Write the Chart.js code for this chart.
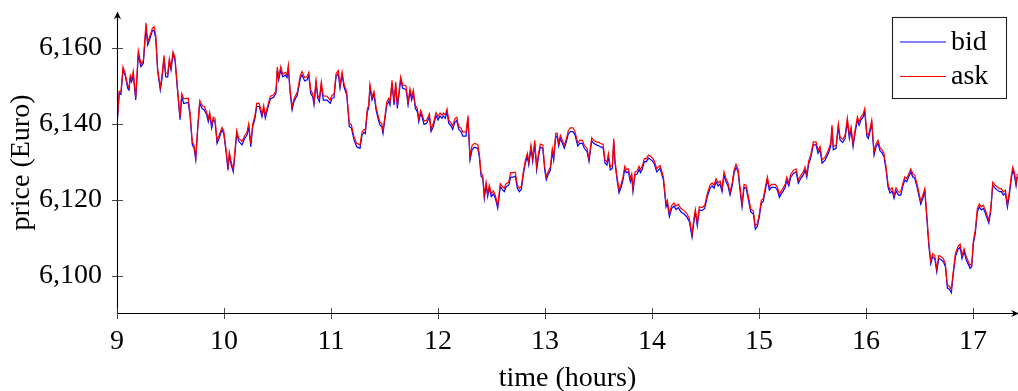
<!DOCTYPE html>
<html>
<head>
<meta charset="utf-8">
<title>bid / ask</title>
<script src="https://cdn.jsdelivr.net/npm/chart.js@4.4.1/dist/chart.umd.min.js"></script>
<style>
  html, body { margin: 0; padding: 0; background: #fff; }
  #wrap { position: relative; width: 1018px; height: 391px; }
</style>
</head>
<body>
<div id="wrap"><canvas id="c"></canvas></div>
<script>
// Time of each quote, in hours of the trading day
const hours = [
  9.000, 9.021, 9.037, 9.056, 9.075, 9.100, 9.112, 9.124, 9.137, 9.152,
  9.175, 9.199, 9.224, 9.246, 9.271, 9.287, 9.308, 9.330, 9.346, 9.362,
  9.380, 9.405, 9.423, 9.439, 9.455, 9.474, 9.489, 9.505, 9.523, 9.542,
  9.561, 9.589, 9.605, 9.623, 9.666, 9.682, 9.704, 9.720, 9.736, 9.754,
  9.773, 9.797, 9.816, 9.838, 9.853, 9.866, 9.885, 9.900, 9.916, 9.935,
  9.953,
  9.981, 9.997, 10.019, 10.037, 10.050, 10.068, 10.087, 10.119, 10.137, 10.168,
  10.193, 10.215, 10.231, 10.250, 10.268, 10.287, 10.306, 10.330, 10.355, 10.371,
  10.386, 10.405, 10.433, 10.464, 10.486, 10.498, 10.511, 10.530, 10.549, 10.573,
  10.589, 10.601, 10.617, 10.636, 10.654, 10.685, 10.713, 10.729, 10.754, 10.776,
  10.792, 10.810, 10.829, 10.841, 10.860, 10.876, 10.891, 10.909, 10.928, 10.963,
  10.993,
  11.009, 11.028, 11.047, 11.068, 11.084, 11.103, 11.121, 11.147, 11.171, 11.190,
  11.215, 11.240, 11.271, 11.290, 11.308, 11.321, 11.339, 11.352, 11.364, 11.383,
  11.402, 11.421, 11.442, 11.458, 11.474, 11.486, 11.505, 11.521, 11.539, 11.551,
  11.570, 11.589, 11.605, 11.620, 11.638, 11.651, 11.670, 11.701, 11.720, 11.738,
  11.754, 11.769, 11.788, 11.807, 11.820, 11.838, 11.850, 11.869, 11.894, 11.919,
  11.935, 11.956, 11.981,
  12.000, 12.019, 12.037, 12.050, 12.068, 12.084, 12.100, 12.121, 12.137, 12.156,
  12.175, 12.193, 12.215, 12.231, 12.262, 12.280, 12.299, 12.318, 12.339, 12.371,
  12.386, 12.402, 12.418, 12.433, 12.449, 12.464, 12.479, 12.498, 12.517, 12.536,
  12.558, 12.582, 12.605, 12.620, 12.636, 12.661, 12.679, 12.704, 12.722, 12.741,
  12.760, 12.779, 12.797, 12.816, 12.835, 12.848, 12.869, 12.885, 12.904, 12.922,
  12.941, 12.956, 12.979,
  12.997, 13.012, 13.028, 13.050, 13.068, 13.081, 13.100, 13.112, 13.128, 13.143,
  13.162, 13.180, 13.199, 13.218, 13.236, 13.262, 13.280, 13.306, 13.324, 13.349,
  13.367, 13.393, 13.411, 13.436, 13.455, 13.479, 13.505, 13.523, 13.542, 13.561,
  13.579, 13.592, 13.610, 13.629, 13.642, 13.654, 13.673, 13.692, 13.710, 13.729,
  13.745, 13.760, 13.779, 13.797, 13.810, 13.822, 13.841, 13.860, 13.879, 13.891,
  13.909, 13.928, 13.947, 13.966, 13.984,
  14.003, 14.021, 14.044, 14.075, 14.106, 14.131, 14.143, 14.162, 14.184, 14.206,
  14.224, 14.246, 14.268, 14.299, 14.324, 14.349, 14.374, 14.393, 14.405, 14.423,
  14.442, 14.467, 14.492, 14.517, 14.542, 14.561, 14.579, 14.598, 14.617, 14.636,
  14.654, 14.673, 14.692, 14.710, 14.729, 14.748, 14.766, 14.785, 14.804, 14.822,
  14.841, 14.860, 14.879, 14.904, 14.922, 14.947, 14.965, 14.984, 15.003, 15.021,
  15.040, 15.059, 15.078, 15.096, 15.115, 15.152, 15.171, 15.190, 15.208, 15.227,
  15.246, 15.259, 15.278, 15.296,
  15.321, 15.346, 15.367, 15.390, 15.414, 15.430, 15.446, 15.464, 15.483, 15.507,
  15.533, 15.551, 15.570, 15.589, 15.617, 15.648, 15.670, 15.682, 15.694, 15.720,
  15.741, 15.757, 15.782, 15.804, 15.825, 15.844, 15.860, 15.879, 15.897, 15.919,
  15.935, 15.953, 15.972, 15.988, 16.007, 16.021, 16.037, 16.053, 16.075, 16.093,
  16.112, 16.131, 16.150, 16.168, 16.187, 16.206, 16.224, 16.243, 16.262, 16.280,
  16.302, 16.324, 16.343, 16.362, 16.380, 16.399, 16.418, 16.436, 16.455, 16.474,
  16.493, 16.511, 16.530, 16.549, 16.567, 16.586, 16.605, 16.623, 16.642, 16.661,
  16.679, 16.698, 16.722, 16.741, 16.760, 16.779, 16.797, 16.816, 16.835, 16.860,
  16.879, 16.897, 16.916, 16.935, 16.953, 16.972, 16.988, 17.003, 17.021, 17.040,
  17.059, 17.077, 17.096, 17.115, 17.147, 17.165, 17.184, 17.206, 17.227, 17.246,
  17.264, 17.283, 17.302, 17.321, 17.339, 17.358, 17.371, 17.386, 17.402, 17.414
];

// Bid price (Euro)
const bid = [
  6139.3, 6148.1, 6147.8, 6154.2, 6152.9, 6149.4, 6148.9, 6152.0, 6151.1, 6152.9,
  6146.3, 6158.2, 6155.1, 6156.0, 6165.2, 6160.8, 6162.5, 6164.5, 6164.7, 6162.5,
  6153.8, 6148.9, 6152.4, 6157.3, 6152.4, 6152.4, 6156.4, 6154.2, 6158.3, 6156.8,
  6150.3, 6141.1, 6147.2, 6145.4, 6145.7, 6142.4, 6134.5, 6133.6, 6130.5, 6138.4,
  6145.4, 6144.0, 6143.7, 6142.4, 6140.6, 6142.4, 6138.9, 6141.1, 6140.6, 6134.9,
  6136.2,
  6138.4, 6137.5, 6132.7, 6127.9, 6131.8, 6129.2, 6127.4, 6137.5, 6135.5, 6134.5,
  6136.2, 6137.1, 6139.3, 6134.0, 6139.3, 6141.1, 6144.6, 6144.6, 6141.9, 6144.1,
  6141.5, 6143.7, 6146.6, 6147.0, 6148.1, 6154.2, 6151.6, 6154.2, 6152.4, 6152.9,
  6152.2, 6154.7, 6148.5, 6143.7, 6145.9, 6147.6, 6152.0, 6152.9, 6151.3, 6151.6,
  6152.9, 6148.1, 6147.2, 6145.0, 6150.7, 6146.8, 6145.9, 6150.3, 6146.3, 6146.3,
  6145.4,
  6146.8, 6146.9, 6152.4, 6153.3, 6149.4, 6152.9, 6149.8, 6147.6, 6139.3, 6139.0,
  6135.8, 6134.0, 6133.6, 6137.1, 6137.8, 6137.5, 6143.2, 6144.1, 6149.6, 6146.3,
  6147.8, 6143.7, 6141.1, 6139.7, 6139.3, 6137.5, 6141.5, 6145.0, 6145.9, 6145.0,
  6150.7, 6145.0, 6150.3, 6144.1, 6148.5, 6151.6, 6149.4, 6149.1, 6145.0, 6148.5,
  6146.3, 6148.1, 6144.1, 6143.2, 6140.6, 6142.8, 6141.9, 6139.9, 6140.2, 6141.9,
  6138.0, 6139.3, 6142.2,
  6141.1, 6142.1, 6141.5, 6142.1, 6141.5, 6143.2, 6140.2, 6139.5, 6138.6, 6140.4,
  6140.9, 6138.6, 6138.0, 6136.8, 6136.8, 6141.5, 6130.5, 6133.2, 6133.9, 6133.6,
  6131.4, 6126.3, 6125.7, 6120.4, 6123.9, 6120.9, 6123.1, 6120.9, 6121.6, 6120.4,
  6117.8, 6123.5, 6122.6, 6122.2, 6123.5, 6123.9, 6126.0, 6126.0, 6126.3, 6123.1,
  6122.2, 6122.8, 6126.6, 6129.7, 6131.4, 6129.2, 6133.6, 6130.1, 6134.9, 6127.9,
  6131.8, 6133.9, 6133.6,
  6127.9, 6125.3, 6126.6, 6127.9, 6132.7, 6130.5, 6136.7, 6136.8, 6134.2, 6136.2,
  6134.9, 6133.6, 6135.3, 6137.4, 6138.0, 6138.0, 6137.1, 6134.2, 6134.9, 6134.9,
  6133.6, 6132.7, 6130.1, 6135.6, 6134.9, 6134.5, 6134.2, 6133.9, 6133.8, 6129.7,
  6129.2, 6131.4, 6127.9, 6128.3, 6135.3, 6129.7, 6125.3, 6121.9, 6123.3, 6125.3,
  6128.1, 6127.2, 6127.4, 6124.8, 6126.1, 6122.2, 6126.6, 6126.8, 6128.1, 6127.2,
  6128.1, 6130.1, 6130.1, 6131.0, 6130.7,
  6130.3, 6129.5, 6127.4, 6128.3, 6125.3, 6118.2, 6119.1, 6115.6, 6117.8, 6118.4,
  6117.5, 6118.0, 6116.9, 6116.3, 6115.6, 6114.3, 6110.2, 6114.7, 6116.7, 6113.2,
  6117.4, 6117.2, 6117.8, 6120.9, 6123.1, 6123.7, 6123.1, 6124.8, 6123.7, 6124.2,
  6122.2, 6126.6, 6124.8, 6123.7, 6121.3, 6123.5, 6127.0, 6128.6, 6127.4, 6122.6,
  6118.2, 6123.3, 6123.1, 6119.6, 6116.9, 6116.3, 6112.3, 6113.0, 6115.6, 6119.1,
  6119.6, 6122.6, 6125.3, 6122.6, 6123.3, 6123.3, 6122.6, 6120.7, 6121.6, 6122.4,
  6123.5, 6125.2, 6123.7, 6126.0,
  6127.0, 6127.4, 6124.4, 6125.7, 6126.6, 6127.9, 6126.0, 6129.5, 6131.0, 6134.5,
  6134.5, 6132.3, 6133.3, 6129.7, 6130.5, 6132.3, 6134.2, 6138.9, 6133.2, 6133.6,
  6139.3, 6135.8, 6135.1, 6136.2, 6140.6, 6136.2, 6138.4, 6134.0, 6137.5, 6141.1,
  6139.7, 6141.1, 6141.8, 6143.2, 6136.8, 6136.2, 6138.0, 6140.2, 6131.8, 6134.0,
  6134.9, 6132.9, 6132.4, 6131.4, 6127.9, 6123.3, 6121.8, 6122.4, 6120.4, 6122.4,
  6121.3, 6121.3, 6123.5, 6125.3, 6124.8, 6126.1, 6127.4, 6126.1, 6125.7, 6123.7,
  6121.3, 6118.9, 6120.4, 6122.2, 6115.6, 6108.2, 6103.2, 6105.1, 6104.6, 6101.1,
  6104.6, 6104.4, 6103.8, 6102.5, 6096.8, 6096.5, 6095.6, 6100.7, 6105.1, 6107.0,
  6107.6, 6104.6, 6106.4, 6104.4, 6103.2, 6102.0, 6102.5, 6108.6, 6111.2, 6116.9,
  6118.2, 6117.4, 6117.8, 6116.5, 6113.9, 6116.9, 6123.9, 6123.1, 6122.6, 6122.2,
  6122.2, 6121.3, 6121.8, 6118.1, 6121.3, 6125.7, 6127.9, 6126.6, 6123.7, 6126.1
];

// Ask price (Euro)
const ask = [
  6140.2, 6148.6, 6148.5, 6155.0, 6153.5, 6150.1, 6149.5, 6152.8, 6151.8, 6153.9,
  6147.0, 6159.3, 6155.8, 6156.7, 6166.6, 6161.6, 6163.2, 6165.2, 6165.6, 6163.3,
  6154.5, 6149.6, 6153.3, 6158.1, 6153.4, 6153.3, 6157.2, 6154.9, 6159.0, 6157.5,
  6151.0, 6141.8, 6148.0, 6146.6, 6146.8, 6143.2, 6135.3, 6134.4, 6131.3, 6139.3,
  6146.2, 6144.8, 6144.6, 6143.1, 6141.4, 6143.1, 6139.8, 6141.8, 6141.5, 6135.6,
  6136.9,
  6139.1, 6138.3, 6133.4, 6128.7, 6132.6, 6129.9, 6128.2, 6138.3, 6136.3, 6135.4,
  6136.9, 6137.9, 6140.1, 6134.8, 6140.0, 6141.9, 6145.5, 6145.4, 6142.6, 6144.9,
  6142.3, 6144.4, 6147.3, 6147.7, 6148.8, 6155.0, 6152.4, 6155.1, 6153.1, 6153.6,
  6153.0, 6155.5, 6149.3, 6144.5, 6146.6, 6148.4, 6152.8, 6153.8, 6152.2, 6152.4,
  6153.6, 6148.9, 6148.0, 6145.8, 6151.5, 6147.6, 6146.7, 6151.1, 6147.4, 6147.3,
  6146.3,
  6147.6, 6147.8, 6153.2, 6154.1, 6150.2, 6153.7, 6150.6, 6148.4, 6140.1, 6139.8,
  6136.6, 6134.9, 6134.5, 6137.9, 6138.6, 6138.3, 6144.0, 6144.9, 6150.4, 6147.1,
  6148.6, 6144.5, 6141.9, 6140.5, 6140.1, 6138.3, 6142.3, 6145.8, 6146.7, 6145.8,
  6151.5, 6145.8, 6151.1, 6144.9, 6149.3, 6152.4, 6150.3, 6150.0, 6145.8, 6149.3,
  6147.1, 6148.9, 6144.9, 6144.0, 6141.4, 6143.6, 6142.7, 6140.8, 6141.0, 6142.7,
  6138.8, 6140.1, 6143.0,
  6141.9, 6142.9, 6142.3, 6142.9, 6142.4, 6144.0, 6141.0, 6140.3, 6139.5, 6141.3,
  6141.8, 6139.4, 6138.9, 6137.9, 6137.9, 6142.2, 6131.4, 6134.3, 6134.9, 6134.6,
  6132.2, 6127.1, 6126.5, 6121.3, 6124.7, 6121.7, 6123.9, 6121.7, 6122.4, 6121.2,
  6118.6, 6124.3, 6123.4, 6123.1, 6124.3, 6124.7, 6127.2, 6127.2, 6127.3, 6123.9,
  6123.0, 6123.6, 6127.4, 6130.5, 6132.3, 6130.0, 6134.5, 6130.9, 6135.7, 6128.7,
  6132.6, 6134.7, 6134.4,
  6128.7, 6126.1, 6127.4, 6128.7, 6133.5, 6131.3, 6137.5, 6137.6, 6135.0, 6137.0,
  6135.7, 6134.4, 6136.1, 6138.3, 6139.0, 6139.0, 6138.0, 6135.0, 6135.7, 6135.7,
  6134.4, 6133.5, 6130.9, 6136.4, 6135.7, 6135.3, 6135.1, 6134.8, 6134.7, 6130.5,
  6130.0, 6132.2, 6128.7, 6129.1, 6136.2, 6130.5, 6126.1, 6122.7, 6124.1, 6126.1,
  6128.9, 6128.0, 6128.2, 6125.6, 6126.9, 6123.0, 6127.4, 6127.6, 6128.9, 6128.0,
  6128.9, 6130.9, 6130.9, 6131.8, 6131.5,
  6131.1, 6130.3, 6128.2, 6129.1, 6126.1, 6119.0, 6119.9, 6116.4, 6118.6, 6119.2,
  6118.4, 6118.9, 6117.8, 6117.2, 6116.5, 6115.1, 6111.1, 6115.5, 6117.5, 6114.0,
  6118.2, 6118.0, 6118.6, 6121.7, 6123.9, 6124.5, 6123.9, 6125.6, 6124.5, 6125.0,
  6123.0, 6127.4, 6125.6, 6124.5, 6122.1, 6124.3, 6127.8, 6129.4, 6128.2, 6123.4,
  6119.0, 6124.1, 6123.9, 6120.4, 6117.7, 6117.1, 6113.1, 6113.8, 6116.4, 6119.9,
  6120.4, 6123.4, 6126.1, 6123.4, 6124.1, 6124.1, 6123.4, 6121.5, 6122.4, 6123.2,
  6124.3, 6126.0, 6124.5, 6126.8,
  6127.8, 6128.2, 6125.2, 6126.5, 6127.4, 6128.7, 6126.8, 6130.3, 6131.8, 6135.3,
  6135.3, 6133.1, 6134.1, 6130.5, 6131.3, 6133.1, 6135.0, 6139.7, 6134.0, 6134.4,
  6140.1, 6136.6, 6135.9, 6137.0, 6141.6, 6137.0, 6139.2, 6134.8, 6138.3, 6141.9,
  6140.5, 6141.9, 6142.6, 6144.1, 6137.6, 6137.0, 6138.8, 6141.0, 6132.6, 6134.8,
  6135.7, 6133.7, 6133.2, 6132.2, 6128.7, 6124.1, 6122.6, 6123.2, 6121.2, 6123.2,
  6122.1, 6122.1, 6124.3, 6126.1, 6125.6, 6126.9, 6128.2, 6126.9, 6126.5, 6124.5,
  6122.1, 6119.7, 6121.2, 6123.0, 6116.4, 6109.0, 6104.0, 6105.9, 6105.4, 6101.9,
  6105.4, 6105.2, 6104.6, 6103.3, 6097.6, 6097.3, 6096.4, 6101.5, 6105.9, 6107.8,
  6108.4, 6105.4, 6107.2, 6105.2, 6104.0, 6102.8, 6103.3, 6109.4, 6112.0, 6117.7,
  6119.0, 6118.2, 6118.6, 6117.3, 6114.7, 6117.7, 6124.7, 6123.9, 6123.4, 6123.0,
  6123.0, 6122.1, 6122.6, 6118.9, 6122.1, 6126.5, 6128.7, 6127.4, 6124.5, 6126.9
];

const seriesNames = ['bid', 'ask'];
const seriesColors = ['#0000ff', '#ff0000'];
const xTickValues = [9, 10, 11, 12, 13, 14, 15, 16, 17];
const yTickValues = [6100, 6120, 6140, 6160];
const xLabel = 'time (hours)';
const yLabel = 'price (Euro)';

const FONT = "'Liberation Serif', 'Times New Roman', serif";
const FONT_SIZE = 28;

const toPoints = vals => vals.map((v, i) => ({ x: hours[i], y: v }));

// Axis lines with arrow tips and ticks that cross the axis
const axisLines = {
  id: 'axisLines',
  afterDatasetsDraw(chart) {
    const { ctx, chartArea: a, scales } = chart;
    const ax = Math.round(a.left) + 0.5;
    const ay = Math.round(a.bottom) + 0.5;
    ctx.save();
    ctx.strokeStyle = '#000';
    ctx.fillStyle = '#000';
    ctx.lineWidth = 1.1;

    ctx.beginPath();
    ctx.moveTo(ax, ay);
    ctx.lineTo(ax, a.top + 3);
    ctx.moveTo(ax, ay);
    ctx.lineTo(a.right - 2, ay);
    ctx.stroke();

    // arrow heads
    const tip = (x, y, dx, dy) => {
      const nx = -dy, ny = dx;
      ctx.beginPath();
      ctx.moveTo(x, y);
      ctx.lineTo(x - dx * 8 + nx * 3.6, y - dy * 8 + ny * 3.6);
      ctx.quadraticCurveTo(x - dx * 5, y - dy * 5, x - dx * 5.5, y - dy * 5.5);
      ctx.quadraticCurveTo(x - dx * 5, y - dy * 5, x - dx * 8 - nx * 3.6, y - dy * 8 - ny * 3.6);
      ctx.closePath();
      ctx.fill();
    };
    tip(ax, a.top - 0.5, 0, -1);
    tip(a.right + 1, ay, 1, 0);

    ctx.lineWidth = 0.9;
    ctx.strokeStyle = '#333';
    ctx.beginPath();
    yTickValues.forEach(v => {
      const py = Math.round(scales.y.getPixelForValue(v)) + 0.5;
      ctx.moveTo(ax - 5.5, py);
      ctx.lineTo(ax + 5.5, py);
    });
    xTickValues.forEach(v => {
      const px = Math.round(scales.x.getPixelForValue(v)) + 0.5;
      ctx.moveTo(px, ay - 5.5);
      ctx.lineTo(px, ay + 5.5);
    });
    ctx.stroke();
    ctx.restore();
  }
};

// Boxed legend in the upper right corner of the plot
const boxLegend = {
  id: 'boxLegend',
  afterDraw(chart) {
    const { ctx } = chart;
    const bx = 892, by = 17, bw = 114, bh = 82;
    ctx.save();
    ctx.fillStyle = '#fff';
    ctx.fillRect(bx, by, bw, bh);
    ctx.strokeStyle = '#222';
    ctx.lineWidth = 1.1;
    ctx.strokeRect(bx + 0.5, by + 0.5, bw, bh - 1);
    ctx.font = `${FONT_SIZE}px ${FONT}`;
    ctx.textBaseline = 'alphabetic';
    ctx.textAlign = 'left';
    chart.data.datasets.forEach((ds, i) => {
      const ly = 42 + i * 34.5;
      ctx.strokeStyle = ds.borderColor;
      ctx.lineWidth = 1.2;
      ctx.beginPath();
      ctx.moveTo(900, ly);
      ctx.lineTo(946, ly);
      ctx.stroke();
      ctx.fillStyle = '#000';
      ctx.fillText(ds.label, 951, ly + 7.5);
    });
    ctx.restore();
  }
};

// Keep the plot area fixed: no extra room reserved for half-labels at the ends
const noEdgePadding = s => {
  s.paddingTop = 0;
  s.paddingBottom = 0;
  s.paddingLeft = 0;
  s.paddingRight = 0;
};

new Chart(document.getElementById('c'), {
  type: 'line',
  data: {
    datasets: [
      { label: seriesNames[0], data: toPoints(bid), borderColor: seriesColors[0], order: 1 },
      { label: seriesNames[1], data: toPoints(ask), borderColor: seriesColors[1], order: 0 }
    ]
  },
  options: {
    responsive: true,
    maintainAspectRatio: false,
    animation: false,
    layout: { padding: { top: 12, right: 0, bottom: 0, left: 0 } },
    elements: {
      line: { borderWidth: 1.2, tension: 0, fill: false },
      point: { radius: 0, hoverRadius: 0 }
    },
    plugins: {
      legend: { display: false },
      tooltip: { enabled: false },
      title: { display: false }
    },
    scales: {
      x: {
        type: 'linear',
        min: 9,
        max: 17.42,
        grid: { display: false, drawTicks: false },
        border: { display: false },
        afterBuildTicks: s => { s.ticks = xTickValues.map(v => ({ value: v })); },
        afterFit: s => { s.height = 78; noEdgePadding(s); },
        ticks: {
          color: '#000',
          padding: 12,
          maxRotation: 0,
          autoSkip: false,
          font: { family: FONT, size: FONT_SIZE },
          callback: v => String(v)
        },
        title: {
          display: true,
          text: xLabel,
          color: '#000',
          padding: { top: 0, bottom: 0 },
          font: { family: FONT, size: FONT_SIZE, lineHeight: 0.9 }
        }
      },
      y: {
        type: 'linear',
        min: 6090.26,
        max: 6169.47,
        grid: { display: false, drawTicks: false },
        border: { display: false },
        afterBuildTicks: s => { s.ticks = yTickValues.map(v => ({ value: v })); },
        afterFit: s => { s.width = 117; noEdgePadding(s); },
        ticks: {
          color: '#000',
          padding: 15,
          font: { family: FONT, size: FONT_SIZE },
          callback: v => Number(v).toLocaleString('en-US')
        },
        title: {
          display: true,
          text: yLabel,
          color: '#000',
          padding: { top: 9, bottom: 0 },
          font: { family: FONT, size: FONT_SIZE, lineHeight: 0.9 }
        }
      }
    }
  },
  plugins: [axisLines, boxLegend]
});
</script>
</body>
</html>
